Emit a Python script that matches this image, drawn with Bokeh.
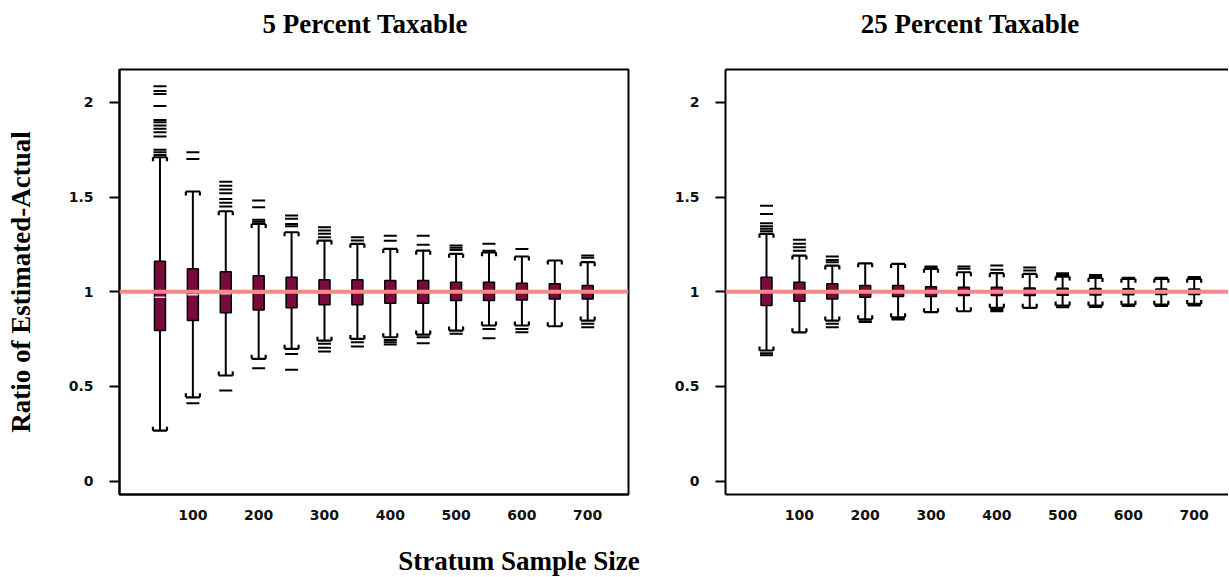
from bokeh.plotting import figure
from bokeh.models import Range1d, FixedTicker, Span, LinearAxis, Div
from bokeh.layouts import row, column
from bokeh.embed import file_html
from bokeh.resources import INLINE

# ---------------- data ----------------
sizes = [50, 100, 150, 200, 250, 300, 350, 400, 450, 500, 550, 600, 650, 700]
x_ticks = [100, 200, 300, 400, 500, 600, 700]
y_ticks = [0, 0.5, 1, 1.5, 2]
y_tick_labels = ["0", "0.5", "1", "1.5", "2"]
titles = ["5 Percent Taxable", "25 Percent Taxable"]
x_label = "Stratum Sample Size"
y_label = "Ratio of Estimated-Actual"
reference_value = 1.0

# 5 percent taxable
L_lo = [0.267, 0.443, 0.558, 0.646, 0.699, 0.742, 0.751, 0.760, 0.774, 0.795, 0.822, 0.822, 0.818, 0.848]
L_q1 = [0.795, 0.848, 0.889, 0.904, 0.915, 0.932, 0.932, 0.939, 0.939, 0.954, 0.954, 0.957, 0.962, 0.962]
L_med = [0.971, 0.984, 0.990, 0.994, 0.997, 0.995, 0.997, 0.998, 0.998, 0.999, 0.999, 0.999, 1.0, 1.0]
L_q3 = [1.161, 1.121, 1.105, 1.085, 1.077, 1.064, 1.064, 1.059, 1.059, 1.050, 1.050, 1.045, 1.042, 1.033]
L_hi = [1.710, 1.529, 1.425, 1.358, 1.314, 1.270, 1.253, 1.226, 1.217, 1.200, 1.208, 1.186, 1.165, 1.156]
L_out_hi = [
    [2.085, 2.06, 2.044, 1.98, 1.907, 1.895, 1.877, 1.860, 1.842, 1.819, 1.749, 1.736, 1.722],
    [1.736, 1.70],
    [1.58, 1.56, 1.54, 1.52, 1.49, 1.47, 1.45],
    [1.481, 1.446, 1.38, 1.37],
    [1.402, 1.385, 1.358, 1.346],
    [1.340, 1.323, 1.306, 1.288],
    [1.288, 1.27],
    [1.295, 1.269],
    [1.295, 1.248],
    [1.244, 1.232, 1.221],
    [1.253, 1.217],
    [1.226],
    [],
    [1.191, 1.179],
]
L_out_lo = [
    [],
    [0.412],
    [0.479],
    [0.596],
    [0.672, 0.588],
    [0.725, 0.704, 0.685],
    [0.733, 0.711],
    [0.746, 0.734, 0.721],
    [0.760, 0.728],
    [0.778],
    [0.804, 0.755],
    [0.804, 0.786],
    [],
    [0.831, 0.813],
]

# 25 percent taxable
R_lo = [0.690, 0.786, 0.848, 0.855, 0.865, 0.892, 0.897, 0.915, 0.915, 0.927, 0.927, 0.932, 0.932, 0.936]
R_q1 = [0.927, 0.950, 0.962, 0.971, 0.975, 0.975, 0.980, 0.980, 0.980, 0.982, 0.983, 0.984, 0.985, 0.985]
R_med = [1.0, 0.998, 0.999, 1.0, 1.0, 1.0, 1.0, 1.0, 1.0, 1.0, 1.0, 1.0, 1.0, 1.0]
R_q3 = [1.077, 1.050, 1.042, 1.033, 1.033, 1.027, 1.024, 1.024, 1.020, 1.018, 1.017, 1.016, 1.015, 1.015]
R_hi = [1.306, 1.191, 1.138, 1.150, 1.147, 1.121, 1.103, 1.098, 1.094, 1.080, 1.073, 1.068, 1.068, 1.068]
R_out_hi = [
    [1.454, 1.411, 1.362, 1.346, 1.332, 1.319],
    [1.274, 1.253, 1.235, 1.217],
    [1.186, 1.168, 1.156],
    [],
    [],
    [1.133, 1.126],
    [1.133, 1.121],
    [1.138, 1.116],
    [1.128, 1.112],
    [1.098, 1.089],
    [1.089, 1.082],
    [1.074],
    [1.074],
    [1.078, 1.073],
]
R_out_lo = [
    [0.675, 0.665],
    [],
    [0.831, 0.813],
    [0.845, 0.840],
    [0.858, 0.853],
    [],
    [],
    [0.904, 0.897],
    [],
    [0.918],
    [0.920],
    [0.925],
    [0.925],
    [0.927],
]

# ---------------- style ----------------
BOX_FILL = "#7a0a3c"
MEDIAN_COLOR = "#f6d3de"
REF_COLOR = "#f7898a"
TICK_FONT = "DejaVu Sans"
TITLE_FONT = "Liberation Serif"
TITLE_SIZE = "27px"
Y_RANGE = (-0.07, 2.173)
FRAME_H = 425
TOP = 21
BOTTOM = 53


def text_div(text, width, height, line_height):
    return Div(text=text, width=width, height=height, margin=0,
               styles={"font-family": TITLE_FONT, "font-weight": "bold",
                       "font-size": TITLE_SIZE, "text-align": "center",
                       "line-height": f"{line_height}px", "color": "black",
                       "white-space": "nowrap"})


def panel(lo, q1, med, q3, hi, out_hi, out_lo, xr, frame_w,
          left_border, right_border, outline=True):
    p = figure(frame_width=frame_w, frame_height=FRAME_H,
               x_range=Range1d(*xr), y_range=Range1d(*Y_RANGE),
               output_backend="svg", toolbar_location=None,
               min_border_left=left_border, min_border_right=right_border,
               min_border_top=TOP, min_border_bottom=BOTTOM,
               background_fill_color="white", border_fill_color="white")
    p.xgrid.visible = False
    p.ygrid.visible = False
    if outline:
        p.outline_line_color = "black"
        p.outline_line_width = 2
    else:
        p.outline_line_color = None

    px_x = frame_w / (xr[1] - xr[0])
    px_y = FRAME_H / (Y_RANGE[1] - Y_RANGE[0])
    box_w = 11 / px_x
    cap_hw = 7 / px_x
    hook = 4 / px_y

    # whiskers
    p.segment(x0=sizes, y0=q3, x1=sizes, y1=hi, line_color="black", line_width=2)
    p.segment(x0=sizes, y0=q1, x1=sizes, y1=lo, line_color="black", line_width=2)

    # staples with hooks toward the box
    cx0, cy0, cx1, cy1 = [], [], [], []
    for x, h, l in zip(sizes, hi, lo):
        cx0 += [x - cap_hw, x - cap_hw, x + cap_hw, x - cap_hw, x - cap_hw, x + cap_hw]
        cx1 += [x + cap_hw, x - cap_hw, x + cap_hw, x + cap_hw, x - cap_hw, x + cap_hw]
        cy0 += [h, h, h, l, l, l]
        cy1 += [h, h - hook, h - hook, l, l + hook, l + hook]
    p.segment(x0=cx0, y0=cy0, x1=cx1, y1=cy1, line_color="black", line_width=2.2)

    # outliers
    ox, oy = [], []
    for x, a, b in zip(sizes, out_hi, out_lo):
        for v in a + b:
            ox.append(x)
            oy.append(v)
    p.scatter(x=ox, y=oy, marker="dash", size=13, line_color="black", line_width=2)

    # boxes
    p.vbar(x=sizes, width=box_w, bottom=q1, top=q3, fill_color=BOX_FILL,
           line_color="black", line_width=1.5)
    p.segment(x0=[x - box_w / 2 for x in sizes], y0=med,
              x1=[x + box_w / 2 for x in sizes], y1=med,
              line_color=MEDIAN_COLOR, line_width=1.5)

    # reference line
    p.add_layout(Span(location=reference_value, dimension="width",
                      line_color=REF_COLOR, line_width=4))

    # axes
    p.xaxis.ticker = FixedTicker(ticks=x_ticks)
    p.xaxis.major_tick_out = 0
    p.xaxis.major_tick_in = 0
    p.xaxis.minor_tick_line_color = None
    p.xaxis.major_label_standoff = 15
    p.yaxis.ticker = FixedTicker(ticks=y_ticks)
    p.yaxis.major_label_overrides = {t: s for t, s in zip(y_ticks, y_tick_labels)}
    p.yaxis.major_tick_out = 10
    p.yaxis.major_tick_in = 0
    p.yaxis.minor_tick_line_color = None
    p.yaxis.major_label_standoff = 16
    for ax in (p.xaxis, p.yaxis):
        ax.axis_line_width = 2
        ax.axis_line_color = "black"
        ax.major_tick_line_width = 2
        ax.major_tick_line_color = "black"
        ax.major_label_text_font = TICK_FONT
        ax.major_label_text_font_style = "bold"
        ax.major_label_text_font_size = "14px"
        ax.major_label_text_color = "#111111"

    if not outline:
        top = LinearAxis(ticker=FixedTicker(ticks=[]), major_tick_out=0, major_tick_in=0,
                         minor_tick_out=0, minor_tick_in=0, axis_line_width=2,
                         axis_line_color="black", major_label_text_font_size="0px")
        p.add_layout(top, "above")
    return p


left = panel(L_lo, L_q1, L_med, L_q3, L_hi, L_out_hi, L_out_lo,
             (-11.5, 762.0), 509, 119, 40, outline=True)
left.yaxis.axis_label = y_label
left.yaxis.axis_label_text_font = TITLE_FONT
left.yaxis.axis_label_text_font_style = "bold"
left.yaxis.axis_label_text_font_size = TITLE_SIZE
left.yaxis.axis_label_text_color = "black"
left.yaxis.axis_label_standoff = 30

right = panel(R_lo, R_q1, R_med, R_q3, R_hi, R_out_hi, R_out_lo,
              (-12.3, 752.1), 503, 57, 0, outline=False)

title_row = row(text_div(titles[0], 730, 48, 48), text_div(titles[1], 480, 48, 48))
xlabel_div = text_div(x_label, 1038, 29, 29)

layout = column(title_row, row(left, right), xlabel_div)
open("out.html", "w").write(file_html(layout, INLINE))
